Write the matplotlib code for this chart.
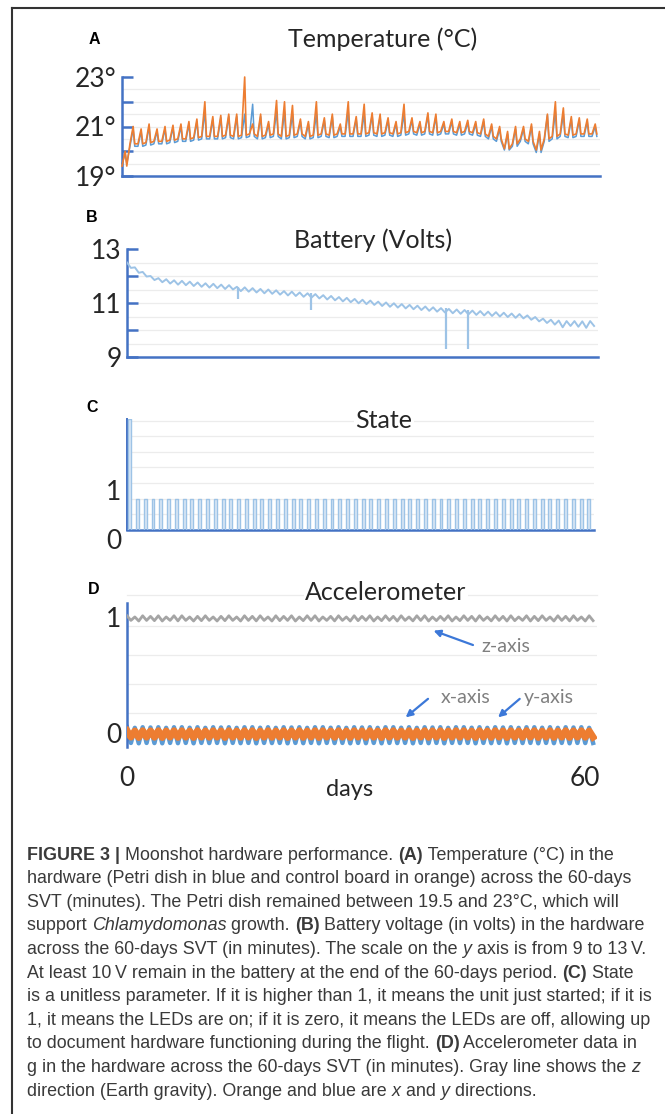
import matplotlib
matplotlib.use('Agg')
import matplotlib.pyplot as plt
from matplotlib.lines import Line2D
from matplotlib.font_manager import FontProperties
from matplotlib.transforms import ScaledTranslation

# ---------------- data ----------------
days_range = [0, 60]

# Temperature (deg C), one base/peak pair per day (control board = orange, Petri dish = blue)
temp_orange_base = [
    19.4, 20.3, 20.3, 20.35, 20.4, 20.4, 20.45, 20.5, 20.5, 20.55,
    20.6, 20.6, 20.6, 20.65, 20.6, 20.65, 20.7, 20.6, 20.65, 20.7,
    20.6, 20.65, 20.7, 20.6, 20.65, 20.7, 20.65, 20.7, 20.7, 20.7,
    20.7, 20.75, 20.7, 20.75, 20.7, 20.75, 20.8, 20.75, 20.8, 20.75,
    20.8, 20.8, 20.75, 20.8, 20.75, 20.7, 20.6, 20.5, 20.1, 20.3,
    20.5, 20.4, 20.05, 20.5, 20.6, 20.7, 20.65, 20.7, 20.7, 20.7]
temp_orange_peak = [
    20.0, 21.0, 20.9, 21.1, 20.9, 21.0, 21.05, 21.1, 21.2, 21.3,
    22.0, 21.4, 21.45, 21.5, 21.5, 23.0, 21.1, 21.5, 21.2, 22.05,
    22.0, 21.85, 21.3, 21.2, 22.0, 21.35, 21.5, 21.1, 22.0, 21.4,
    21.9, 21.55, 21.5, 21.35, 21.2, 21.9, 21.35, 21.2, 21.55, 21.5,
    21.2, 21.3, 21.2, 21.25, 21.2, 21.3, 21.1, 21.0, 20.8, 21.0,
    21.0, 21.1, 20.8, 21.5, 22.0, 21.75, 21.4, 21.35, 21.3, 21.1]
temp_blue_base = [
    19.5, 20.2, 20.2, 20.25, 20.3, 20.3, 20.35, 20.4, 20.4, 20.45,
    20.5, 20.5, 20.5, 20.55, 20.5, 20.55, 20.6, 20.5, 20.55, 20.6,
    20.5, 20.55, 20.6, 20.5, 20.55, 20.6, 20.55, 20.6, 20.6, 20.6,
    20.6, 20.65, 20.6, 20.65, 20.6, 20.65, 20.7, 20.65, 20.7, 20.65,
    20.7, 20.7, 20.65, 20.7, 20.65, 20.6, 20.5, 20.4, 20.05, 20.2,
    20.4, 20.3, 19.95, 20.4, 20.5, 20.6, 20.55, 20.6, 20.6, 20.6]
temp_blue_peak = [
    19.9, 20.9, 20.8, 21.0, 20.8, 20.9, 20.95, 21.0, 21.1, 21.2,
    21.6, 21.3, 21.35, 21.4, 21.4, 21.5, 21.9, 21.4, 21.1, 21.6,
    21.6, 21.5, 21.2, 21.1, 21.5, 21.25, 21.4, 21.0, 21.6, 21.3,
    21.5, 21.45, 21.4, 21.25, 21.1, 21.5, 21.25, 21.1, 21.45, 21.4,
    21.1, 21.2, 21.1, 21.15, 21.1, 21.2, 21.0, 20.9, 20.7, 20.9,
    20.9, 21.0, 20.7, 21.45, 21.6, 21.5, 21.3, 21.25, 21.2, 21.0]
temp_ticks = [19, 20, 21, 22, 23]
temp_ticklabels = ['19°', '', '21°', '', '23°']

# Battery (volts): daily upper value and daily dip
batt_top = [
    12.5, 12.32, 12.15, 12.0, 11.92, 11.88, 11.84, 11.82, 11.79, 11.76,
    11.73, 11.71, 11.68, 11.66, 11.6, 11.58, 11.55, 11.52, 11.5, 11.47,
    11.44, 11.42, 11.39, 11.36, 11.33, 11.29, 11.26, 11.22, 11.19, 11.15,
    11.12, 11.09, 11.05, 11.02, 10.99, 10.96, 10.93, 10.9, 10.87, 10.84,
    10.81, 10.78, 10.76, 10.74, 10.72, 10.7, 10.68, 10.66, 10.64, 10.61,
    10.59, 10.54, 10.48, 10.42, 10.38, 10.35, 10.33, 10.33, 10.32, 10.33]
batt_dip = [
    12.3, 12.12, 11.98, 11.85, 11.77, 11.72, 11.68, 11.66, 11.63, 11.6,
    11.57, 11.55, 11.52, 11.5, 11.44, 11.42, 11.39, 11.36, 11.34, 11.31,
    11.28, 11.26, 11.23, 11.2, 11.17, 11.13, 11.1, 11.06, 11.03, 10.99,
    10.96, 10.93, 10.89, 10.86, 10.83, 10.8, 10.77, 10.74, 10.71, 10.68,
    10.65, 10.62, 10.6, 10.58, 10.56, 10.54, 10.52, 10.5, 10.48, 10.45,
    10.43, 10.38, 10.32, 10.26, 10.2, 10.1, 10.15, 10.12, 10.08, 10.15]
batt_drop_days = [14.1, 23.5, 40.7, 43.5]
batt_drop_values = [11.15, 10.73, 9.3, 9.3]
batt_ticks = [9, 10, 11, 12, 13]
batt_ticklabels = ['9', '', '11', '', '13']

# State: one LED-on pulse per day; first value > 1 (unit just started)
state_on_days = [
    0.15, 1.15, 2.15, 3.15, 4.15, 5.15, 6.15, 7.15, 8.15, 9.15,
    10.15, 11.15, 12.15, 13.15, 14.15, 15.15, 16.15, 17.15, 18.15, 19.15,
    20.15, 21.15, 22.15, 23.15, 24.15, 25.15, 26.15, 27.15, 28.15, 29.15,
    30.15, 31.15, 32.15, 33.15, 34.15, 35.15, 36.15, 37.15, 38.15, 39.15,
    40.15, 41.15, 42.15, 43.15, 44.15, 45.15, 46.15, 47.15, 48.15, 49.15,
    50.15, 51.15, 52.15, 53.15, 54.15, 55.15, 56.15, 57.15, 58.15, 59.15]
state_on_values = [
    3.55, 1, 1, 1, 1, 1, 1, 1, 1, 1,
    1, 1, 1, 1, 1, 1, 1, 1, 1, 1,
    1, 1, 1, 1, 1, 1, 1, 1, 1, 1,
    1, 1, 1, 1, 1, 1, 1, 1, 1, 1,
    1, 1, 1, 1, 1, 1, 1, 1, 1, 1,
    1, 1, 1, 1, 1, 1, 1, 1, 1, 1]
state_ticks = [0, 1]
state_ticklabels = ['0', '1']

# Accelerometer (g): daily high / low values
acc_z_hi = [
    1.01, 1.0, 1.01, 1.005, 1.01, 1.0, 1.01, 1.01, 1.0, 1.005,
    1.01, 1.0, 1.005, 1.01, 1.0, 1.01, 1.005, 1.01, 1.0, 1.01,
    1.005, 1.01, 1.0, 1.01, 1.01, 1.0, 1.005, 1.01, 1.0, 1.01,
    1.005, 1.01, 1.0, 1.01, 1.005, 1.01, 1.0, 1.01, 1.01, 1.0,
    1.005, 1.01, 1.0, 1.01, 1.005, 1.01, 1.0, 1.01, 1.005, 1.01,
    1.0, 1.01, 1.005, 1.01, 1.0, 1.01, 1.005, 1.01, 1.0, 1.01]
acc_z_lo = [
    0.97, 0.965, 0.97, 0.968, 0.965, 0.97, 0.966, 0.97, 0.965, 0.968,
    0.97, 0.965, 0.968, 0.97, 0.965, 0.97, 0.966, 0.97, 0.965, 0.968,
    0.97, 0.965, 0.968, 0.97, 0.965, 0.97, 0.966, 0.97, 0.965, 0.968,
    0.97, 0.965, 0.968, 0.97, 0.965, 0.97, 0.966, 0.97, 0.965, 0.968,
    0.97, 0.965, 0.968, 0.97, 0.965, 0.97, 0.966, 0.97, 0.965, 0.968,
    0.97, 0.965, 0.968, 0.97, 0.965, 0.97, 0.966, 0.97, 0.965, 0.968]
acc_x_hi = [
    0.02, 0.018, 0.02, 0.019, 0.02, 0.018, 0.02, 0.02, 0.018, 0.02,
    0.018, 0.02, 0.019, 0.02, 0.018, 0.02, 0.02, 0.018, 0.02, 0.018,
    0.02, 0.019, 0.02, 0.018, 0.02, 0.02, 0.018, 0.02, 0.018, 0.02,
    0.019, 0.02, 0.018, 0.02, 0.02, 0.018, 0.02, 0.018, 0.02, 0.019,
    0.02, 0.018, 0.02, 0.02, 0.018, 0.02, 0.018, 0.02, 0.019, 0.02,
    0.018, 0.02, 0.02, 0.018, 0.02, 0.018, 0.02, 0.019, 0.02, 0.018]
acc_x_lo = [
    -0.035, -0.038, -0.035, -0.036, -0.038, -0.035, -0.037, -0.035, -0.038, -0.035,
    -0.036, -0.035, -0.038, -0.035, -0.037, -0.035, -0.038, -0.035, -0.036, -0.035,
    -0.038, -0.035, -0.037, -0.035, -0.038, -0.035, -0.036, -0.035, -0.038, -0.035,
    -0.037, -0.035, -0.038, -0.035, -0.036, -0.035, -0.038, -0.035, -0.037, -0.035,
    -0.038, -0.035, -0.036, -0.035, -0.038, -0.035, -0.037, -0.035, -0.038, -0.035,
    -0.036, -0.035, -0.038, -0.035, -0.037, -0.035, -0.038, -0.035, -0.036, -0.035]
acc_y_hi = [
    0.05, 0.045, 0.05, 0.048, 0.05, 0.045, 0.05, 0.05, 0.046, 0.05,
    0.045, 0.05, 0.048, 0.05, 0.045, 0.05, 0.05, 0.046, 0.05, 0.045,
    0.05, 0.048, 0.05, 0.045, 0.05, 0.05, 0.046, 0.05, 0.045, 0.05,
    0.048, 0.05, 0.045, 0.05, 0.05, 0.046, 0.05, 0.045, 0.05, 0.048,
    0.05, 0.045, 0.05, 0.05, 0.046, 0.05, 0.045, 0.05, 0.048, 0.05,
    0.045, 0.05, 0.05, 0.046, 0.05, 0.045, 0.05, 0.048, 0.05, 0.045]
acc_y_lo = [
    -0.085, -0.088, -0.085, -0.086, -0.088, -0.085, -0.087, -0.085, -0.088, -0.085,
    -0.086, -0.085, -0.088, -0.085, -0.087, -0.085, -0.088, -0.085, -0.086, -0.085,
    -0.088, -0.085, -0.087, -0.085, -0.088, -0.085, -0.086, -0.085, -0.088, -0.085,
    -0.087, -0.085, -0.088, -0.085, -0.086, -0.085, -0.088, -0.085, -0.087, -0.085,
    -0.088, -0.085, -0.086, -0.085, -0.088, -0.085, -0.087, -0.085, -0.088, -0.085,
    -0.086, -0.085, -0.088, -0.085, -0.087, -0.085, -0.088, -0.085, -0.086, -0.085]
acc_ticks = [0, 1]
acc_ticklabels = ['0', '1']
x_ticks = [0, 60]
x_ticklabels = ['0', '60']

panel_titles = ['Temperature (°C)', 'Battery (Volts)', 'State', 'Accelerometer']
panel_letters = ['A', 'B', 'C', 'D']

caption_lines = [
    [("FIGURE 3 |", 'b'), (" Moonshot hardware performance. ", 'n'), ("(A)", 'b'), (" Temperature (°C) in the", 'n')],
    [("hardware (Petri dish in blue and control board in orange) across the 60-days", 'n')],
    [("SVT (minutes). The Petri dish remained between 19.5 and 23°C, which will", 'n')],
    [("support ", 'n'), ("Chlamydomonas", 'i'), (" growth. ", 'n'), ("(B)", 'b'), (" Battery voltage (in volts) in the hardware", 'n')],
    [("across the 60-days SVT (in minutes). The scale on the ", 'n'), ("y", 'i'), (" axis is from 9 to 13\u2009V.", 'n')],
    [("At least 10\u2009V remain in the battery at the end of the 60-days period. ", 'n'), ("(C)", 'b'), (" State", 'n')],
    [("is a unitless parameter. If it is higher than 1, it means the unit just started; if it is", 'n')],
    [("1, it means the LEDs are on; if it is zero, it means the LEDs are off, allowing up", 'n')],
    [("to document hardware functioning during the flight. ", 'n'), ("(D)", 'b'), (" Accelerometer data in", 'n')],
    [("g in the hardware across the 60-days SVT (in minutes). Gray line shows the ", 'n'), ("z", 'i')],
    [("direction (Earth gravity). Orange and blue are ", 'n'), ("x", 'i'), (" and ", 'n'), ("y", 'i'), (" directions.", 'n')],
]

# ---------------- styling ----------------
W, H = 665, 1114
AXIS_BLUE = '#4472C4'
ORANGE = '#ED7D31'
BLUE = '#5B9BD5'
LIGHTBLUE = '#9DC3E6'
GRAY = '#A5A5A5'
GRID = '#ececec'
TXT = '#262626'
CHART_FONT = ['Lato', 'DejaVu Sans']
CAP_FONT = ['Liberation Sans Narrow', 'Liberation Sans', 'DejaVu Sans']

fig = plt.figure(figsize=(W / 100, H / 100), dpi=100)
fig.patch.set_facecolor('white')


def box(l, t, r, b):
    return [l / W, 1 - b / H, (r - l) / W, (b - t) / H]


def px(x, y):
    return x / W, 1 - y / H


def style_axes(ax, ylim, grid_vals, left_ticks=True):
    ax.set_xlim(days_range)
    ax.set_ylim(ylim)
    for s in ['top', 'right']:
        ax.spines[s].set_visible(False)
    for s in ['left', 'bottom']:
        ax.spines[s].set_color(AXIS_BLUE)
        ax.spines[s].set_linewidth(1.8)
    for g in grid_vals:
        ax.axhline(g, color=GRID, lw=0.9, zorder=0)
    ax.set_xticks([])
    ax.tick_params(axis='y', direction='in', length=8 if left_ticks else 0,
                   width=1.8, color=AXIS_BLUE, labelsize=19, labelcolor=TXT, pad=4)


def spiky(base, peak, rise, fall):
    xs, ys = [], []
    for d, (b, p) in enumerate(zip(base, peak)):
        xs += [d, d + rise, d + fall]
        ys += [b, p, b]
    return xs, ys


def zigzag(hi, lo, off):
    xs, ys = [], []
    for d, (h, l) in enumerate(zip(hi, lo)):
        xs += [d, d + off]
        ys += [h, l]
    return xs, ys


# ---- Panel A ----
axA = fig.add_axes(box(122, 77, 600, 176))
style_axes(axA, (19, 23), [19.5, 20, 20.5, 21, 21.5, 22, 22.5])
axA.set_yticks(temp_ticks)
axA.set_yticklabels(temp_ticklabels, fontfamily=CHART_FONT)
xb, yb = spiky(temp_blue_base, temp_blue_peak, 0.4, 0.6)
axA.plot(xb, yb, color=BLUE, lw=1.1, clip_on=False, zorder=2)
xo, yo = spiky(temp_orange_base, temp_orange_peak, 0.4, 0.6)
axA.plot(xo, yo, color=ORANGE, lw=1.2, clip_on=False, zorder=3)

# ---- Panel B ----
axB = fig.add_axes(box(127, 249, 598, 357))
style_axes(axB, (9, 13), [9.5, 10, 10.5, 11, 11.5, 12, 12.5])
axB.set_yticks(batt_ticks)
axB.set_yticklabels(batt_ticklabels, fontfamily=CHART_FONT)
xz, yz = zigzag(batt_top, batt_dip, 0.5)
axB.plot(xz, yz, color=LIGHTBLUE, lw=1.4, zorder=3)
axB.vlines(batt_drop_days, batt_drop_values,
           [batt_top[int(d)] for d in batt_drop_days], color=LIGHTBLUE, lw=1.6, zorder=3)

# ---- Panel C ----
axC = fig.add_axes(box(127, 419, 594, 530))
style_axes(axC, (0, 3.55), [0.5, 1, 1.5, 2, 2.5, 3, 3.5], left_ticks=False)
axC.set_yticks(state_ticks)
axC.set_yticklabels(state_ticklabels, fontfamily=CHART_FONT)
labs = axC.get_yticklabels()
labs[0].set_transform(labs[0].get_transform() + ScaledTranslation(0, -9 / 100, fig.dpi_scale_trans))
labs[1].set_transform(labs[1].get_transform() + ScaledTranslation(0, 9 / 100, fig.dpi_scale_trans))
axC.spines['left'].set_linewidth(1.4)
pulse_len = 0.38
sx, sy = [0], [0]
for d, v in zip(state_on_days, state_on_values):
    sx += [d, d, d + pulse_len, d + pulse_len]
    sy += [0, v, v, 0]
sx.append(60)
sy.append(0)
axC.fill(sx, sy, color='#dbe8f5', lw=0, zorder=2)
axC.plot(sx, sy, color=LIGHTBLUE, lw=1.0, zorder=3)

# ---- Panel D ----
axD = fig.add_axes(box(127, 603, 597, 747))
style_axes(axD, (-0.12, 1.12), [0.17, 0.42, 0.67, 0.92], left_ticks=False)
axD.axhline(1.19, color=GRID, lw=0.9, zorder=0, clip_on=False)
axD.set_yticks(acc_ticks)
axD.set_yticklabels(acc_ticklabels, fontfamily=CHART_FONT)
axD.spines['bottom'].set_visible(False)
x1, y1 = zigzag(acc_y_hi, acc_y_lo, 0.5)
axD.plot(x1, y1, color=BLUE, lw=3.2, zorder=2)
x2, y2 = zigzag(acc_x_hi, acc_x_lo, 0.5)
axD.plot(x2, y2, color=ORANGE, lw=5.0, zorder=3)
x3, y3 = zigzag(acc_z_hi, acc_z_lo, 0.5)
axD.plot(x3, y3, color=GRAY, lw=2.0, zorder=3)
axD.set_xticks(x_ticks)
axD.set_xticklabels(x_ticklabels, fontfamily=CHART_FONT)
axD.tick_params(axis='x', length=0, labelsize=19, labelcolor=TXT, pad=14)
xl = axD.get_xticklabels()
xl[1].set_transform(xl[1].get_transform() + ScaledTranslation(-12 / 100, 0, fig.dpi_scale_trans))
fig.text(*px(350, 790), 'days', ha='center', va='center', fontsize=17,
         color=TXT, family=CHART_FONT)

arrow_kw = dict(arrowstyle='-|>', color='#3c78d8', lw=1.6, mutation_scale=10)
ann_kw = dict(color='#7f7f7f', fontsize=14, family=CHART_FONT, va='center', ha='left')
axD.annotate('', xy=(38.8, 0.89), xytext=(44.5, 0.75), arrowprops=arrow_kw)
axD.text(45.3, 0.745, 'z-axis', **ann_kw)
axD.annotate('', xy=(35.3, 0.12), xytext=(38.7, 0.31), arrowprops=arrow_kw)
axD.text(40.0, 0.31, 'x-axis', **ann_kw)
axD.annotate('', xy=(47.1, 0.12), xytext=(50.4, 0.31), arrowprops=arrow_kw)
axD.text(50.6, 0.31, 'y-axis', **ann_kw)

# ---- titles and letters ----
title_pos = [(383, 39), (373, 240), (384, 421), (386, 592)]
for (x, y), t in zip(title_pos, panel_titles):
    fig.text(*px(x, y), t, ha='center', va='center', fontsize=18, color=TXT,
             family=CHART_FONT,
             bbox=dict(facecolor='white', edgecolor='none', pad=1))
letter_pos = [(94, 40), (92, 218), (92, 407), (94, 590)]
for (x, y), t in zip(letter_pos, panel_letters):
    fig.text(*px(x, y), t, ha='center', va='center', fontsize=11.5,
             fontweight='bold', color='black', family=['Liberation Sans', 'DejaVu Sans'])

# ---- frame ----
fig.add_artist(Line2D([12 / W, 12 / W], [1 - 8 / H, 0], transform=fig.transFigure,
                      color='#333333', lw=1.5))
fig.add_artist(Line2D([12 / W, 1], [1 - 8 / H, 1 - 8 / H], transform=fig.transFigure,
                      color='#333333', lw=1.5))

# ---- caption ----
renderer = fig.canvas.get_renderer()


def fprop(style, size):
    fp = FontProperties(family=CAP_FONT, size=size)
    if style == 'b':
        fp.set_weight('bold')
    if style == 'i':
        fp.set_style('italic')
    return fp


def seg_w(text, fp):
    w1, _, _ = renderer.get_text_width_height_descent(text + '|', fp, ismath=False)
    w2, _, _ = renderer.get_text_width_height_descent('|', fp, ismath=False)
    return w1 - w2


ref_size = 10.0
natural = sum(seg_w(s, fprop(st, ref_size)) for s, st in caption_lines[6])
cap_size = ref_size * 625.0 / natural

x0 = 27
for i, line in enumerate(caption_lines):
    y = 855 + 23.6 * i
    x = x0
    for s, st in line:
        fp = fprop(st, cap_size)
        fig.text(*px(x, y), s, fontproperties=fp, color='#3a3a3a', va='center', ha='left')
        x += seg_w(s, fp)

fig.savefig('out.png', dpi=100, facecolor='white')
